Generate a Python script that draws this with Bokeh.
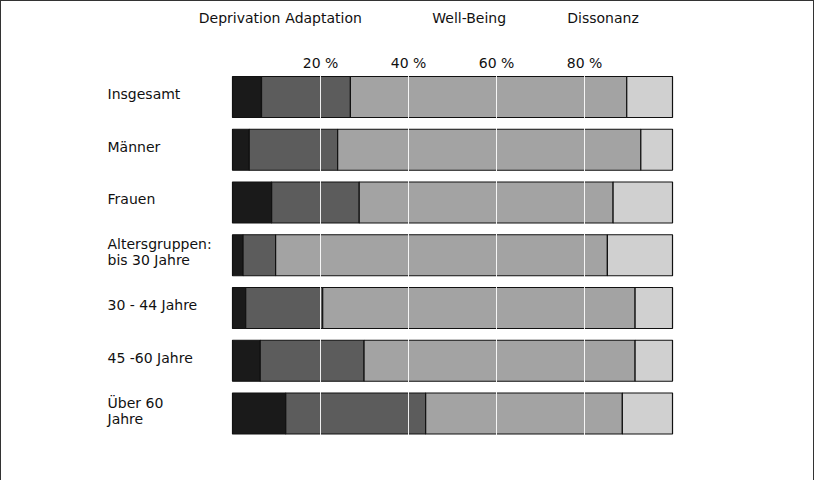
from bokeh.plotting import figure
from bokeh.models import ColumnDataSource, Range1d, FixedTicker, LinearAxis
from bokeh.core.properties import value
from bokeh.embed import file_html
from bokeh.resources import INLINE

# ---- data -------------------------------------------------------------
categories = ["Insgesamt", "Männer", "Frauen", "Altersgruppen:\nbis 30 Jahre",
              "30 - 44 Jahre", "45 -60 Jahre", "Über 60\nJahre"]
series = ["Deprivation", "Adaptation", "Well-Being", "Dissonanz"]
deprivation = [6.6, 3.8, 8.9, 2.4, 3.0, 6.3, 12.1]
adaptation = [20.2, 20.1, 19.9, 7.4, 17.5, 23.6, 31.8]
well_being = [62.8, 68.9, 57.7, 75.4, 71.0, 61.6, 44.7]
dissonanz = [10.4, 7.2, 13.5, 14.8, 8.5, 8.5, 11.4]
tick_values = [20, 40, 60, 80]
tick_labels = ["20 %", "40 %", "60 %", "80 %"]

# ---- style / layout ---------------------------------------------------
colors = ["#1a1a1a", "#5c5c5c", "#a3a3a3", "#d0d0d0"]
header_pos = [1.6, 20.7, 53.8, 84.2]   # where the series names sit (data units)
label_x = -28.4
FONT = "DejaVu Sans"

data = {"y": list(range(len(categories))), "cat": categories}
for name, vals in zip(series, [deprivation, adaptation, well_being, dissonanz]):
    data[name] = vals
source = ColumnDataSource(data)

p = figure(width=814, height=480,
           x_range=Range1d(-52.727, 132.27), y_range=Range1d(7.27, -0.502),
           x_axis_location="above", y_axis_location=None,
           min_border_left=0, min_border_right=0, min_border_bottom=0,
           min_border_top=70, outline_line_color=None,
           background_fill_color=None, border_fill_color=None,
           toolbar_location=None, output_backend="svg")
p.styles = {"box-shadow": "inset 1px 1px 0 #333, inset -1px 0 0 #333",
            "background-color": "white"}

p.hbar_stack(series, y="y", height=0.777, color=colors, source=source,
             line_color="#111111", line_width=1.2)

p.text(x=label_x, y="y", text="cat", source=source,
       text_font=value(FONT), text_font_size="14px", text_color="#111111",
       text_baseline="middle", text_align="left", y_offset=-3,
       text_line_height=1.0)

ax = p.xaxis[0]
ax.ticker = FixedTicker(ticks=tick_values)
ax.major_label_overrides = dict(zip(tick_values, tick_labels))

# series names row across the top
hax = LinearAxis(ticker=FixedTicker(ticks=header_pos),
                 major_label_overrides=dict(zip(header_pos, series)))
p.add_layout(hax, "above")

for a in (ax, hax):
    a.axis_line_color = None
    a.major_tick_line_color = None
    a.minor_tick_line_color = None
    a.major_tick_out = 0
    a.major_tick_in = 0
    a.major_label_text_font = FONT
    a.major_label_text_font_size = "14px"
    a.major_label_text_color = "#111111"
ax.major_label_standoff = 0
hax.major_label_standoff = 26

p.xgrid.grid_line_color = "white"
p.xgrid.grid_line_alpha = 0.9
p.xgrid.grid_line_width = 1
p.xgrid.level = "overlay"
p.ygrid.visible = False

open("out.html", "w").write(file_html(p, INLINE))
